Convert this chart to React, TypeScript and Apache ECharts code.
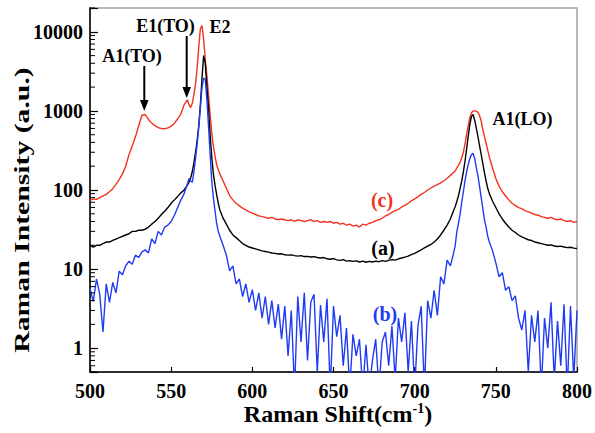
import React, { useEffect, useRef } from 'react';
import * as echarts from 'echarts';

// Raman shift (cm^-1) sampling grid
const wavenumber = [
  500, 502, 504, 506, 508, 510, 512, 514, 516, 518, 520, 522, 524, 526, 528, 530, 532, 534, 536, 538, 540, 542, 544, 546, 548, 550, 552, 554, 556, 558,
  560, 561, 562, 563, 564, 565, 566, 567, 568, 569, 570, 571, 572, 573, 574, 575, 576, 577, 578, 579,
  580, 582, 584, 586, 588, 590, 592, 594, 596, 598, 600, 602, 604, 606, 608, 610, 612, 614, 616, 618, 620, 622, 624, 626, 628, 630, 632, 634, 636, 638,
  640, 642, 644, 646, 648, 650, 652, 654, 656, 658, 660, 662, 664, 666, 668, 670, 672, 674, 676, 678, 680, 682, 684, 686, 688, 690, 692, 694, 696, 698,
  700, 702, 704, 706, 708, 710, 712, 714, 716, 718, 720, 722, 724,
  725, 726, 727, 728, 729, 730, 731, 732, 733, 734, 735, 736, 737, 738, 739, 740, 741, 742, 743, 744, 745,
  746, 748, 750, 752, 754, 756, 758, 760, 762, 764, 766, 768, 770, 772, 774, 776, 778, 780, 782, 784, 786, 788, 790, 792, 794, 796, 798, 800,
];

// (c) red
const intensityC = [
  74, 77, 76, 80, 84, 88, 95, 104, 118, 135, 160, 200, 280, 360, 470, 650, 880, 900, 780, 700, 650, 615, 600, 595, 610, 640, 700, 790, 920, 1200,
  1380, 1200, 1100, 1250, 1600, 2200, 3500, 6500, 11000, 12000, 8000, 4500, 2800, 1600, 900, 520, 360, 270, 210, 180,
  160, 130, 105, 85, 75, 68, 63, 59, 56, 53, 51, 49, 47, 46, 45, 44, 45, 43, 42, 43, 42, 41, 42, 40, 42, 41, 40, 41, 42, 40,
  41, 39, 40, 39, 40, 38, 39, 37, 38, 36, 37, 35, 36, 34, 37, 36, 38, 39, 41, 42, 44, 47, 49, 52, 55, 57, 61, 64, 68, 73,
  77, 82, 88, 93, 100, 106, 112, 117, 123, 131, 141, 153, 166,
  175, 190, 205, 225, 255, 300, 380, 500, 650, 820, 950, 1000, 1000, 990, 960, 870, 740, 580, 470, 390, 320,
  260, 190, 140, 112, 95, 84, 75, 68, 64, 60, 58, 55, 53, 51, 49, 48, 46, 45, 44, 45, 43, 42, 43, 41, 40, 41, 39, 40,
];

// (a) black
const intensityA = [
  20, 19, 20, 20, 21, 22, 22, 23, 24, 25, 26, 27, 28, 30, 30, 31, 31, 32, 34, 37, 40, 44, 49, 54, 60, 68, 75, 83, 92, 100,
  115, 125, 142, 170, 220, 300, 420, 650, 1200, 2600, 5000, 4000, 2000, 1100, 500, 260, 160, 115, 88, 68,
  56, 44, 37, 31, 27, 25, 23, 21, 20, 19, 18.5, 18, 17.5, 17, 16.7, 16.4, 16, 15.8, 15.5, 15.6, 15.2, 15, 15.1, 14.8, 14.6, 14.8, 14.4, 14.5, 14.2, 14.4,
  14, 13.8, 14, 13.5, 13.3, 13.6, 13.1, 12.9, 13.2, 12.6, 12.8, 12.5, 12.7, 12.3, 12.6, 12.2, 12.5, 12.3, 12.6, 12.4, 12.8, 12.5, 12.9, 13.2, 13, 13.5, 13.8, 14.2, 14.6, 15.2,
  15.8, 16.6, 17.5, 18.5, 19.5, 20.5, 22, 24, 27, 31, 36, 43, 55,
  62, 72, 85, 105, 130, 170, 230, 330, 480, 680, 850, 900, 760, 600, 470, 360, 280, 215, 165, 130, 105,
  90, 72, 60, 50, 43, 38, 34, 31, 29, 27, 25.5, 24.5, 23.5, 23, 22, 21.5, 21, 20.5, 20, 20.2, 19.6, 19.3, 19.5, 19, 18.7, 18.9, 18.4, 18.2,
];

// (b) blue
const intensityB = [
  5.7, 3.9, 7.5, 4.8, 1.6, 6.5, 3.8, 6.8, 5, 9.4, 8.5, 11, 12.6, 11.5, 15, 14, 16.5, 17.5, 16, 24, 21, 30, 27, 34, 36, 40, 48, 60, 75, 90,
  120, 140, 130, 125, 170, 250, 380, 620, 1100, 2000, 2600, 2500, 1400, 650, 280, 130, 80, 55, 38, 30,
  26, 20, 15, 9.5, 11, 6.5, 7.5, 4.5, 6.5, 3.8, 5.5, 3, 5, 2.4, 4.5, 2, 4, 1.8, 3.6, 1.3, 3.4, 0.8, 3, 0.3, 4.5, 1.2, 5, 0.7, 3.8, 4.8,
  0.5, 3.5, 1.2, 4.2, 0.3, 3.4, 1.4, 2.6, 0.6, 1.8, 0.3, 1.5, 0.8, 1.3, 0.3, 1.1, 0.3, 0.7, 1.3, 0.3, 1.2, 1.6, 0.6, 1.9, 0.4, 2.4, 1.2, 2.8, 0.5, 2.2,
  0.3, 1.9, 3.4, 0.3, 4, 2.4, 5.4, 2.6, 8, 6.5, 13, 11, 16,
  20, 30, 38, 50, 70, 95, 130, 170, 210, 250, 280, 290, 250, 190, 150, 110, 80, 58, 42, 34, 26,
  22, 17, 12, 8, 9, 5.4, 6, 4, 4.6, 2.4, 1.7, 3, 0.5, 2.6, 1.2, 3, 0.3, 2.4, 1, 3.8, 0.4, 2.2, 0.6, 3.6, 0.3, 3.4, 0.4, 3,
];

const xTickLabels = [500, 550, 600, 650, 700, 750, 800];
const yDecades = [0.1, 1, 10, 100, 1000, 10000];
const minorMultipliers = [2, 3, 4, 5, 6, 7, 8, 9];

const X_MIN = 500;
const X_MAX = 800;
const Y_MIN = 0.5;
const Y_MAX = 20000;

const RED = '#f2321e';
const BLUE = '#1f3cf2';
const BLACK = '#000000';
const FONT = "'Liberation Serif', 'Times New Roman', serif";

const pair = (ys: number[]) => wavenumber.map((x, i) => [x, ys[i]]);

export default function App() {
  const ref = useRef<HTMLDivElement>(null);

  useEffect(() => {
    if (!ref.current) return;
    const chart = echarts.init(ref.current, undefined, { renderer: 'svg' });

    const minorTicks: number[] = [];
    yDecades.forEach((d) =>
      minorMultipliers.forEach((m) => {
        const v = d * m;
        if (v >= Y_MIN - 1e-9 && v <= Y_MAX + 1e-9) minorTicks.push(v);
      })
    );

    const lineSeries = (name: string, ys: number[], color: string) => ({
      name,
      type: 'line',
      data: pair(ys),
      showSymbol: false,
      symbol: 'none',
      clip: true,
      lineStyle: { color, width: 1.4 },
      itemStyle: { color },
      z: 3,
    });

    const bold = (size: number) => `bold ${size}px ${FONT}`;
    const centered = { align: 'center', verticalAlign: 'middle', textAlign: 'center', textVerticalAlign: 'middle' };

    chart.setOption({
      animation: false,
      backgroundColor: '#ffffff',
      grid: {
        left: 90,
        top: 8,
        width: 492,
        height: 364,
        show: true,
        borderColor: '#b8b8b8',
        borderWidth: 2,
        backgroundColor: 'transparent',
      },
      xAxis: {
        type: 'value',
        min: X_MIN,
        max: X_MAX,
        interval: 50,
        axisLine: { show: true, onZero: false, lineStyle: { color: BLACK, width: 1.5 } },
        axisTick: { show: true, inside: true, length: 5, lineStyle: { color: BLACK, width: 1.2 } },
        axisLabel: {
          color: BLACK,
          fontFamily: FONT,
          fontWeight: 'bold',
          fontSize: 20,
          margin: 9,
          formatter: (v: number) => (xTickLabels.includes(Math.round(v)) ? String(Math.round(v)) : ''),
        },
        splitLine: { show: false },
      },
      yAxis: {
        type: 'log',
        logBase: 10,
        min: Y_MIN,
        max: Y_MAX,
        axisLine: { show: true, onZero: false, lineStyle: { color: BLACK, width: 1.5 } },
        axisTick: { show: true, inside: true, length: 8, lineStyle: { color: BLACK, width: 1.2 } },
        axisLabel: {
          color: BLACK,
          fontFamily: FONT,
          fontWeight: 'bold',
          fontSize: 20,
          margin: 7,
          formatter: (v: number) => {
            const l = Math.log10(v);
            if (Math.abs(l - Math.round(l)) > 1e-6 || Math.round(l) < 0) return '';
            return String(Math.round(v));
          },
        },
        splitLine: { show: false },
      },
      series: [
        lineSeries('(c)', intensityC, RED),
        lineSeries('(a)', intensityA, BLACK),
        lineSeries('(b)', intensityB, BLUE),
        {
          type: 'custom',
          coordinateSystem: 'cartesian2d',
          silent: true,
          clip: false,
          z: 4,
          data: minorTicks.map((v) => [X_MIN, v]),
          encode: { x: 0, y: 1 },
          renderItem: (params: any, api: any) => {
            const p = api.coord([api.value(0), api.value(1)]);
            return {
              type: 'line',
              shape: { x1: p[0], y1: p[1], x2: p[0] + 5, y2: p[1] },
              style: { stroke: BLACK, lineWidth: 1 },
            };
          },
        },
      ],
      graphic: [
        // y-axis title
        {
          type: 'text',
          x: 22,
          y: 210,
          rotation: Math.PI / 2,
          scaleX: 1.35,
          style: { text: 'Raman Intensity (a.u.)', font: bold(22), fill: BLACK, ...centered },
        },
        // x-axis title
        {
          type: 'text',
          x: 338,
          y: 414,
          style: {
            text: '{a|Raman Shift(cm}{s|-1}{a|)}',
            fill: BLACK,
            ...centered,
            rich: {
              a: { font: bold(24), fill: BLACK, lineHeight: 26 },
              s: { font: bold(14), fill: BLACK, verticalAlign: 'top', lineHeight: 14 },
            },
          },
        },
        // peak annotations
        { type: 'text', x: 132, y: 56, style: { text: 'A1(TO)', font: bold(18), fill: BLACK, ...centered } },
        { type: 'text', x: 165.5, y: 25.5, style: { text: 'E1(TO)', font: bold(18), fill: BLACK, ...centered } },
        { type: 'text', x: 220, y: 27, style: { text: 'E2', font: bold(18), fill: BLACK, ...centered } },
        { type: 'text', x: 522.5, y: 118.5, style: { text: 'A1(LO)', font: bold(18), fill: BLACK, ...centered } },
        { type: 'text', x: 382, y: 200, style: { text: '(c)', font: bold(20), fill: RED, ...centered } },
        { type: 'text', x: 383, y: 248, style: { text: '(a)', font: bold(20), fill: BLACK, ...centered } },
        { type: 'text', x: 385, y: 314, style: { text: '(b)', font: bold(20), fill: BLUE, ...centered } },
        // arrows
        { type: 'line', shape: { x1: 144.3, y1: 66, x2: 144.3, y2: 102 }, style: { stroke: BLACK, lineWidth: 2 } },
        { type: 'polygon', shape: { points: [[140, 100], [148.6, 100], [144.3, 111]] }, style: { fill: BLACK } },
        { type: 'line', shape: { x1: 186.7, y1: 36, x2: 186.7, y2: 89 }, style: { stroke: BLACK, lineWidth: 2 } },
        { type: 'polygon', shape: { points: [[182.4, 87], [191, 87], [186.7, 98]] }, style: { fill: BLACK } },
      ],
    });

    return () => chart.dispose();
  }, []);

  return (
    <div
      ref={ref}
      style={{ position: 'fixed', left: 0, top: 0, width: 595, height: 433, background: '#fff' }}
    />
  );
}
